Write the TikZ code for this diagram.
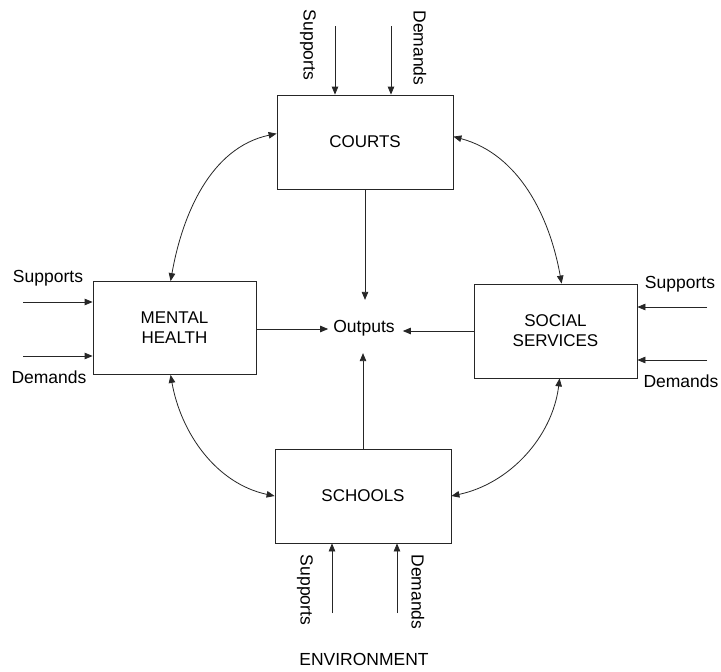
\documentclass[tikz,border=0pt]{standalone}
\usepackage{fontspec}
\setmainfont{Liberation Sans}
\usetikzlibrary{arrows.meta}
\tikzset{
  box/.style={draw=black!85, line width=0.8pt, rectangle, inner sep=0pt, align=center,
    font=\fontsize{17}{20}\selectfont},
  lbl/.style={inner sep=0pt, font=\fontsize{17.5}{20}\selectfont},
  arr/.style={draw=black!85, line width=0.8pt, -{Triangle[length=8pt,width=6.5pt]}},
  darr/.style={draw=black!85, line width=0.8pt, {Triangle[length=8pt,width=6.5pt]}-{Triangle[length=8pt,width=6.5pt]}},
}
\begin{document}
\begin{tikzpicture}[x=1pt,y=-1pt]
\useasboundingbox[fill=white] (0,0) rectangle (721,672);

% boxes
\node[box, minimum width=176pt, minimum height=94pt] (courts) at (365,142) {COURTS};
\node[box, minimum width=163pt, minimum height=93pt] (mh) at (174.5,328) {MENTAL\\HEALTH};
\node[box, minimum width=163pt, minimum height=94pt] (ss) at (555.5,331) {SOCIAL\\SERVICES};
\node[box, minimum width=176pt, minimum height=94pt] (sc) at (363,496) {SCHOOLS};
\node[lbl] (out) at (364,328) {Outputs};

% outputs arrows
\draw[arr] (courts.south) -- ([yshift=20pt]out.north -| courts.south);
\draw[arr] (sc.north) -- ([yshift=-17pt]out.south -| sc.north);
\draw[arr] (mh.east |- 0,329) -- ([xshift=-5pt]out.west |- 0,329);
\draw[arr] (ss.west |- 0,331) -- ([xshift=8pt]out.east |- 0,331);

% top inputs (courts)
\coordinate (ts) at (335,26);
\coordinate (td) at (391,26);
\draw[arr] (ts) -- (ts |- courts.north);
\draw[arr] (td) -- (td |- courts.north);
\node[lbl, rotate=-90] (tsl) at (308,45) {Supports};
\node[lbl, rotate=-90] (tdl) at (420,48) {Demands};

% left inputs (mental health)
\coordinate (ls) at (23,302);
\coordinate (ld) at (23,356);
\draw[arr] (ls) -- (ls -| mh.west);
\draw[arr] (ld) -- (ld -| mh.west);
\node[lbl] (lsl) at (48,278) {Supports};
\node[lbl] (ldl) at (49,377) {Demands};

% right inputs (social services)
\coordinate (rs) at (707,307);
\coordinate (rd) at (707,360);
\draw[arr] (rs) -- (rs -| ss.east);
\draw[arr] (rd) -- (rd -| ss.east);
\node[lbl] (rsl) at (680,284) {Supports};
\node[lbl] (rdl) at (681,381) {Demands};

% bottom inputs (schools)
\coordinate (bs) at (332,613);
\coordinate (bd) at (397,613);
\draw[arr] (bs) -- (bs |- sc.south);
\draw[arr] (bd) -- (bd |- sc.south);
\node[lbl, rotate=-90] (bsl) at (305,590) {Supports};
\node[lbl, rotate=-90] (bdl) at (418,592) {Demands};

\node[lbl] (env) at (364,659) {ENVIRONMENT};

% curved double arrows
\draw[darr] ([yshift=-39pt]courts.north west) to[out=192, in=80, looseness=0.95] ([xshift=78pt]mh.north west);
\draw[darr] ([yshift=-42pt]courts.north east) to[out=-15, in=100, looseness=0.95] ([xshift=88pt]ss.north west);
\draw[darr] ([xshift=78pt]mh.south west) to[out=-80, in=168, looseness=0.95] (sc.west);
\draw[darr] ([xshift=86pt]ss.south west) to[out=-97, in=12, looseness=0.95] (sc.east);
\end{tikzpicture}
\end{document}
